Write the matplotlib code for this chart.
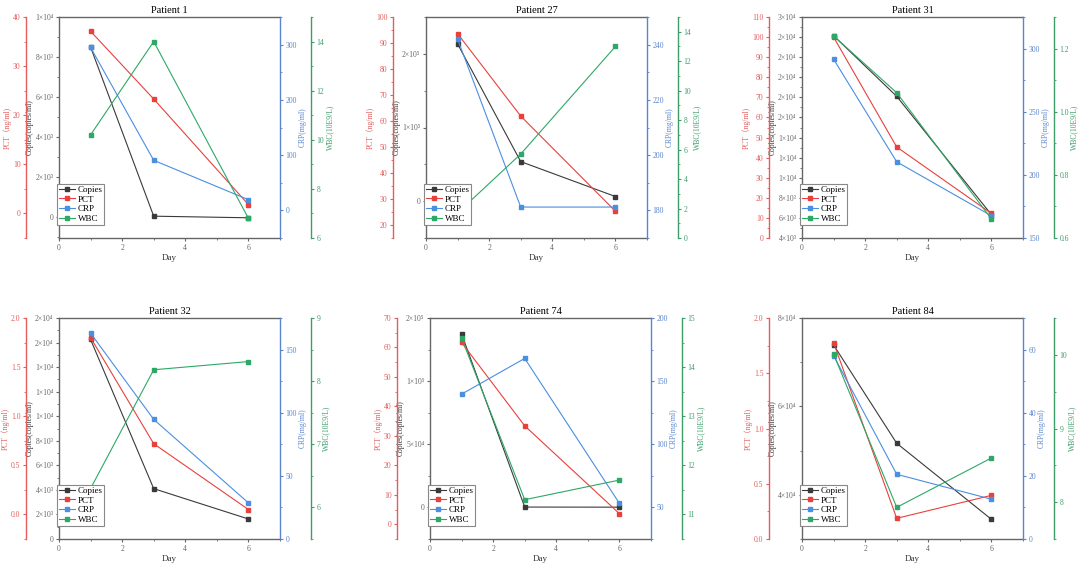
import numpy as np
import matplotlib
matplotlib.use("Agg")
import matplotlib.pyplot as plt
from matplotlib.ticker import AutoMinorLocator, FuncFormatter, MultipleLocator
from matplotlib.lines import Line2D

plt.rcParams['font.family'] = ['Liberation Serif', 'Noto Sans CJK SC']
plt.rcParams['mathtext.fontset'] = 'stix'

days = [1, 3, 6]
titles = ["Patient 1", "Patient 27", "Patient 31", "Patient 32", "Patient 74", "Patient 84"]

copies_1 = [8500, 50, -30]
pct_1 = [37.1, 23.3, 1.8]
crp_1 = [295, 90.6, 19.3]
wbc_1 = [10.2, 14.0, 6.8]

copies_27 = [213500, 53700, 6300]
pct_27 = [93.6, 61.9, 25.3]
crp_27 = [242, 181.2, 181.2]
wbc_27 = [1.7, 5.7, 13.0]

copies_31 = [24140, 18100, 6320]
pct_31 = [100, 45.3, 12.2]
crp_31 = [291.6, 210.3, 167.6]
wbc_31 = [1.24, 1.06, 0.66]

copies_32 = [16250, 4100, 1630]
pct_32 = [1.80, 0.72, 0.05]
crp_32 = [163, 94.7, 28.6]
wbc_32 = [6.3, 8.18, 8.31]

copies_74 = [137400, 300, 200]
pct_74 = [61.7, 33.4, 3.6]
crp_74 = [139.7, 168, 53.2]
wbc_74 = [14.59, 11.3, 11.7]

copies_84 = [73900, 51660, 34450]
pct_84 = [1.777, 0.187, 0.395]
crp_84 = [58.1, 20.5, 12.6]
wbc_84 = [10.01, 7.93, 8.6]

# axis ranges and major tick steps: (copies, pct, crp, wbc)
axis_lims = [
    [(-1040, 10000), (-5, 40), (-50, 350), (6, 15)],
    [(-50000, 250000), (15, 100), (170, 250), (0, 15)],
    [(4000, 26000), (0, 110), (150, 325), (0.6, 1.3)],
    [(0, 18000), (-0.25, 2.0), (0, 175), (5.5, 9)],
    [(-25000, 150000), (-5, 70), (25, 200), (10.5, 15)],
    [(30000, 80000), (0, 2.0), (0, 70), (7.5, 10.5)],
]
axis_steps = [
    [2000, 10, 100, 2],
    [100000, 10, 20, 2],
    [2000, 10, 50, 0.2],
    [2000, 0.5, 50, 1],
    [50000, 10, 50, 1],
    [20000, 0.5, 20, 1],
]

c_copies = '#3a3a3a'
c_pct = '#e8413c'
c_crp = '#4a8fe0'
c_wbc = '#2ea866'
c_host = '#666666'

fig = plt.figure(figsize=(10.8, 5.69), dpi=100)
W, H = 1080, 569
TICK_FS = 5.5
LABEL_FS = 5.5
SUP = str.maketrans("0123456789", "⁰¹²³⁴⁵⁶⁷⁸⁹")


def sci_label(v, pos):
    if abs(v) < 1e-9:
        return "0"
    e = int(np.floor(np.log10(abs(v))))
    m = int(round(v / 10 ** e))
    if m == 10:
        m, e = 1, e + 1
    return "%d×10%s" % (m, str(e).translate(SUP))


def style_ticks(ax, axis, color):
    ax.tick_params(axis=axis, which='both', colors=color, labelsize=TICK_FS,
                   direction='out', pad=1.5)
    ax.tick_params(axis=axis, which='major', length=2.5, width=0.8)
    ax.tick_params(axis=axis, which='minor', length=1.5, width=0.6)


def style_y(ax, color, step, side):
    ax.yaxis.set_major_locator(MultipleLocator(step))
    ax.yaxis.set_minor_locator(AutoMinorLocator(2))
    style_ticks(ax, 'y', color)
    for s in ['top', 'bottom', 'left', 'right']:
        ax.spines[s].set_visible(False)
    ax.spines[side].set_visible(True)
    ax.spines[side].set_color(color)
    ax.spines[side].set_linewidth(1.0)


def draw_panel(x0, y0, title, copies, pct, crp, wbc, lims, steps):
    host = fig.add_axes([x0 / W, (H - y0 - 221) / H, 221 / W, 221 / H])
    ax_pct = host.twinx()
    ax_crp = host.twinx()
    ax_wbc = host.twinx()

    host.plot(days, copies, color=c_copies, marker='s', ms=3, lw=0.8)
    ax_pct.plot(days, pct, color=c_pct, marker='s', ms=3, lw=0.8)
    ax_crp.plot(days, crp, color=c_crp, marker='s', ms=3, lw=0.8)
    ax_wbc.plot(days, wbc, color=c_wbc, marker='s', ms=3, lw=0.8)

    host.set_xlim(0, 7)
    host.set_ylim(*lims[0])
    ax_pct.set_ylim(*lims[1])
    ax_crp.set_ylim(*lims[2])
    ax_wbc.set_ylim(*lims[3])

    # host (Copies)
    host.xaxis.set_major_locator(MultipleLocator(2))
    host.xaxis.set_minor_locator(AutoMinorLocator(2))
    style_ticks(host, 'x', c_host)
    host.yaxis.set_major_locator(MultipleLocator(steps[0]))
    host.yaxis.set_minor_locator(AutoMinorLocator(2))
    host.yaxis.set_major_formatter(FuncFormatter(sci_label))
    style_ticks(host, 'y', c_host)
    for s in ['top', 'bottom', 'left']:
        host.spines[s].set_color(c_host)
        host.spines[s].set_linewidth(1.0)
    host.spines['right'].set_visible(False)
    host.set_xlabel("Day", fontsize=6.5, color='#333333', labelpad=2)
    host.set_ylabel("Copies(copies/ml)", fontsize=LABEL_FS, color='#333333', labelpad=1)
    host.set_title(title, fontsize=7.5, pad=3)

    # PCT on the outer left
    style_y(ax_pct, '#e35d5d', steps[1], 'left')
    ax_pct.spines['left'].set_position(('outward', 33 * 0.72))
    ax_pct.yaxis.set_ticks_position('left')
    ax_pct.yaxis.set_label_position('left')
    ax_pct.set_ylabel("PCT（ng/ml)", fontsize=LABEL_FS, color='#e35d5d', labelpad=1)

    # CRP on the right
    style_y(ax_crp, '#5a85cc', steps[2], 'right')
    ax_crp.set_ylabel("CRP(mg/ml)", fontsize=LABEL_FS, color='#5a85cc', labelpad=1)

    # WBC on the outer right
    style_y(ax_wbc, '#3d9e6a', steps[3], 'right')
    ax_wbc.spines['right'].set_position(('outward', 31 * 0.72))
    ax_wbc.set_ylabel("WBC(10E9/L)", fontsize=LABEL_FS, color='#3d9e6a', labelpad=1)

    handles = [Line2D([], [], color=c, marker='s', ms=3, lw=0.8)
               for c in [c_copies, c_pct, c_crp, c_wbc]]
    leg = ax_wbc.legend(handles, ["Copies", "PCT", "CRP", "WBC"], loc='lower left',
                        bbox_to_anchor=(-0.01, 0.06), borderaxespad=0, fontsize=6.5,
                        labelspacing=0.15, borderpad=0.2, handlelength=1.8,
                        handletextpad=0.3, fancybox=False, framealpha=1,
                        edgecolor='#888888')
    leg.get_frame().set_linewidth(0.8)


data = [
    (copies_1, pct_1, crp_1, wbc_1),
    (copies_27, pct_27, crp_27, wbc_27),
    (copies_31, pct_31, crp_31, wbc_31),
    (copies_32, pct_32, crp_32, wbc_32),
    (copies_74, pct_74, crp_74, wbc_74),
    (copies_84, pct_84, crp_84, wbc_84),
]
origins = [(59, 17), (426, 17), (802, 17), (59, 318), (430, 318), (802, 318)]

for i in range(6):
    draw_panel(origins[i][0], origins[i][1], titles[i], *data[i], axis_lims[i], axis_steps[i])

fig.savefig("out.png", dpi=100)
